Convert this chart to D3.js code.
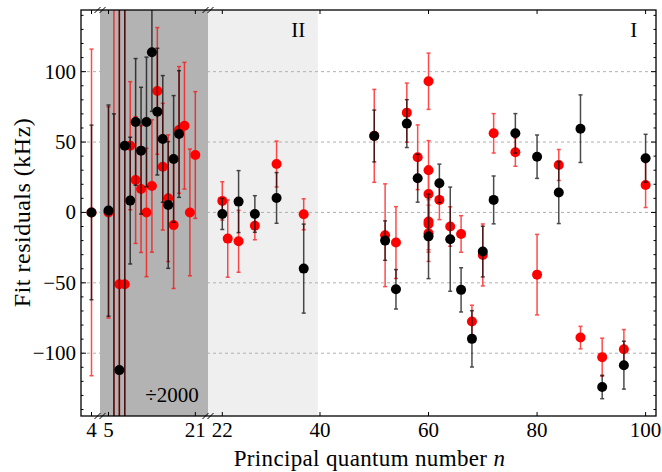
<html>
<head>
<meta charset="utf-8">
<style>
  body { margin: 0; background: #fff; }
</style>
</head>
<body>
<svg id="chart" width="662" height="472" font-family="'Liberation Serif', 'Times New Roman', 'DejaVu Serif', serif"></svg>
<script src="https://cdn.jsdelivr.net/npm/d3@7"></script>
<script>
// black series (values in the 5..21 block are shown divided by 2000)
let blackN   = [4, 5, 6, 7, 8, 9, 10, 11, 12, 13, 14, 15, 16, 17, 18,
                22, 25, 28, 32, 37,
                50, 52, 54, 56, 58, 60, 62, 64, 66, 68, 70, 72, 76, 80, 84, 88, 92, 96, 100]
let blackVal = [0, 1.3, -200, -112, 47.4, 8.4, 64.3, 43.9, 64.3, 113.8, 71.6, 52.2, 5.3, 38, 55.7,
                -1.1, 7.7, -1.1, 10.3, -39.9,
                54.3, -20, -54.6, 63.1, 24.3, -17, 20.7, -19, -55, -89.8, -27.8, 8.9, 56.2, 39.6, 14.1, 59.5, -124, -108.5, 38.5]
let blackErr = [62, 75, 270, 300, 260, 45, 45, 45, 46, 42, 45, 45, 45, 45, 45,
                11, 22, 13, 18, 31.6,
                18.4, 14, 14, 17, 17, 30, 13.6, 37, 15.7, 20, 18, 17, 14, 15.4, 22, 24, 8.3, 17, 17]

// red series
let redN   = [4, 5, 6, 7, 8, 9, 10, 11, 12, 13, 14, 15, 16, 17, 18, 19, 20, 21,
              22, 23, 25, 28, 32, 37,
              50, 52, 54, 56, 58, 60, 60, 60, 60, 60, 60, 62, 64, 66, 68, 70, 72, 76, 80, 84, 88, 92, 96, 100]
let redVal = [0, 0, -180, -51, -51, 47.4, 23, 16.6, 0, 18.8, 86.3, 32.5, 10.1, -9, 58.6, 61.6, 0, 40.8,
              8.2, -18.6, -20.5, -9.4, 34.4, -1.3,
              54.4, -16.2, -21.4, 70.9, 39.2, 93.2, 30, 13.1, -6.5, -8.2, -14.8, 8.9, -10, -15.3, -77.5, -30.2, 56.2, 42.8, -44.2, 33.7, -88.9, -102.8, -97.2, 19.5]
let redErr = [116, 75, 340, 200, 260, 45.5, 45, 45, 45.6, 47, 45, 45, 45, 45, 45, 45, 45, 45,
              13.6, 27.4, 22, 10, 16.3, 11,
              33, 36.5, 25.5, 21, 23, 20, 21, 20, 20, 20, 20, 14, 14, 13, 11.6, 22, 14, 10, 28.6, 11, 8, 13.5, 14, 16]

let xTickValues = [4, 5, 21, 22, 40, 60, 80, 100]
let yTickValues = [-100, -50, 0, 50, 100]

let margin = {left: 81, top: 10, right: 6, bottom: 56}
let width = 662 - margin.left - margin.right
let height = 472 - margin.top - margin.bottom

let svg = d3.select("#chart")
let body = svg.append("g").attr("transform", `translate(${margin.left},${margin.top})`)

// broken x axis: three pieces with the same unit length
let unit = 5.427
let seg1 = d3.scaleLinear().domain([4, 5]).range([10.5, 10.5 + unit])
let seg2 = d3.scaleLinear().domain([5, 21]).range([27.5, 27.5 + 16 * unit])
let seg3 = d3.scaleLinear().domain([22, 100]).range([141.3, 141.3 + 78 * unit])
let break1 = 19, break2 = 127
function x(n) {
    if (n < 4.5) return seg1(n)
    if (n < 21.5) return seg2(n)
    return seg3(n)
}

let y = d3.scaleLinear().domain([-144.6, 143.8]).range([height, 0])

// shaded blocks
body.append("rect")
    .attr("x", break2).attr("y", 0)
    .attr("width", seg3(39.6) - break2).attr("height", height)
    .attr("fill", "#efefef")

// grid
body.selectAll(".grid")
    .data(yTickValues)
    .enter()
    .append("line")
    .attr("x1", 0).attr("x2", width)
    .attr("y1", d => y(d)).attr("y2", d => y(d))
    .attr("stroke", "#b0b0b0")
    .attr("stroke-dasharray", "3,3")
    .attr("stroke-width", 1)

body.append("rect")
    .attr("x", break1).attr("y", 0)
    .attr("width", break2 - break1).attr("height", height)
    .attr("fill", "#b3b3b3")

svg.append("defs").append("clipPath").attr("id", "clip")
    .append("rect").attr("width", width).attr("height", height)

let plot = body.append("g").attr("clip-path", "url(#clip)")

function drawSeries(ns, vals, errs, color) {
    let data = ns.map((n, i) => ({n: n, v: vals[i], e: errs[i]}))
    let bars = plot.append("g")
        .attr("stroke", color)
        .attr("stroke-width", 1.5)
        .attr("opacity", 0.7)
    bars.selectAll("line.bar")
        .data(data)
        .enter()
        .append("line")
        .attr("x1", d => x(d.n)).attr("x2", d => x(d.n))
        .attr("y1", d => y(d.v - d.e)).attr("y2", d => y(d.v + d.e))
    bars.selectAll("line.capTop")
        .data(data)
        .enter()
        .append("line")
        .attr("x1", d => x(d.n) - 2).attr("x2", d => x(d.n) + 2)
        .attr("y1", d => y(d.v + d.e)).attr("y2", d => y(d.v + d.e))
    bars.selectAll("line.capBottom")
        .data(data)
        .enter()
        .append("line")
        .attr("x1", d => x(d.n) - 2).attr("x2", d => x(d.n) + 2)
        .attr("y1", d => y(d.v - d.e)).attr("y2", d => y(d.v - d.e))
    plot.append("g").selectAll("circle")
        .data(data)
        .enter()
        .append("circle")
        .attr("cx", d => x(d.n))
        .attr("cy", d => y(d.v))
        .attr("r", 5)
        .attr("fill", color)
}

drawSeries(redN, redVal, redErr, "#ff0000")
drawSeries(blackN, blackVal, blackErr, "#000000")

// frame
body.append("rect")
    .attr("width", width).attr("height", height)
    .attr("fill", "none").attr("stroke", "#000").attr("stroke-width", 1.3)

// y ticks, left and right
let minorY = d3.range(-140, 141, 10)
let ticks = body.append("g").attr("stroke", "#000").attr("stroke-width", 1)
minorY.forEach(v => {
    let len = v % 50 === 0 ? 5 : 2.5
    ticks.append("line").attr("x1", 0).attr("x2", len).attr("y1", y(v)).attr("y2", y(v))
    ticks.append("line").attr("x1", width).attr("x2", width - len).attr("y1", y(v)).attr("y2", y(v))
})
xTickValues.forEach(n => {
    ticks.append("line").attr("x1", x(n)).attr("x2", x(n)).attr("y1", height).attr("y2", height - 4)
    ticks.append("line").attr("x1", x(n)).attr("x2", x(n)).attr("y1", 0).attr("y2", 4)
})

// axis break marks
;[break1, break2].forEach(bx => {
    ;[0, height].forEach(by => {
        [-2.5, 2.5].forEach(off => {
            ticks.append("line")
                .attr("x1", bx + off - 3).attr("y1", by + 3)
                .attr("x2", bx + off + 3).attr("y2", by - 3)
        })
    })
})

// tick labels
body.selectAll(".ylab")
    .data(yTickValues)
    .enter()
    .append("text")
    .attr("x", -5)
    .attr("y", d => y(d))
    .attr("dy", "0.33em")
    .attr("text-anchor", "end")
    .style("font-size", "21px")
    .text(d => d < 0 ? "\u2212" + Math.abs(d) : d)

body.selectAll(".xlab")
    .data(xTickValues)
    .enter()
    .append("text")
    .attr("x", d => x(d))
    .attr("y", height + 21)
    .attr("text-anchor", "middle")
    .style("font-size", "21px")
    .text(d => d)

// titles
let xTitle = body.append("text")
    .attr("x", (234 + 505) / 2 - margin.left)
    .attr("y", height + 50)
    .attr("text-anchor", "middle")
    .style("font-size", "23px")
    .style("letter-spacing", "0.35px")
xTitle.append("tspan").text("Principal quantum number ")
xTitle.append("tspan").style("font-style", "italic").text("n")

body.append("text")
    .attr("transform", `translate(${-51},${y(0)}) rotate(-90)`)
    .attr("text-anchor", "middle")
    .style("font-size", "24px")
    .style("letter-spacing", "0.5px")
    .text("Fit residuals (kHz)")

body.append("text")
    .attr("x", seg3(36)).attr("y", 27)
    .attr("text-anchor", "middle")
    .style("font-size", "21px")
    .text("II")
body.append("text")
    .attr("x", seg3(97.8)).attr("y", 27)
    .attr("text-anchor", "middle")
    .style("font-size", "21px")
    .text("I")
body.append("text")
    .attr("x", (break1 + break2) / 2 + 18).attr("y", height - 14)
    .attr("text-anchor", "middle")
    .style("font-size", "21px")
    .text("\u00f72000")
</script>
</body>
</html>
